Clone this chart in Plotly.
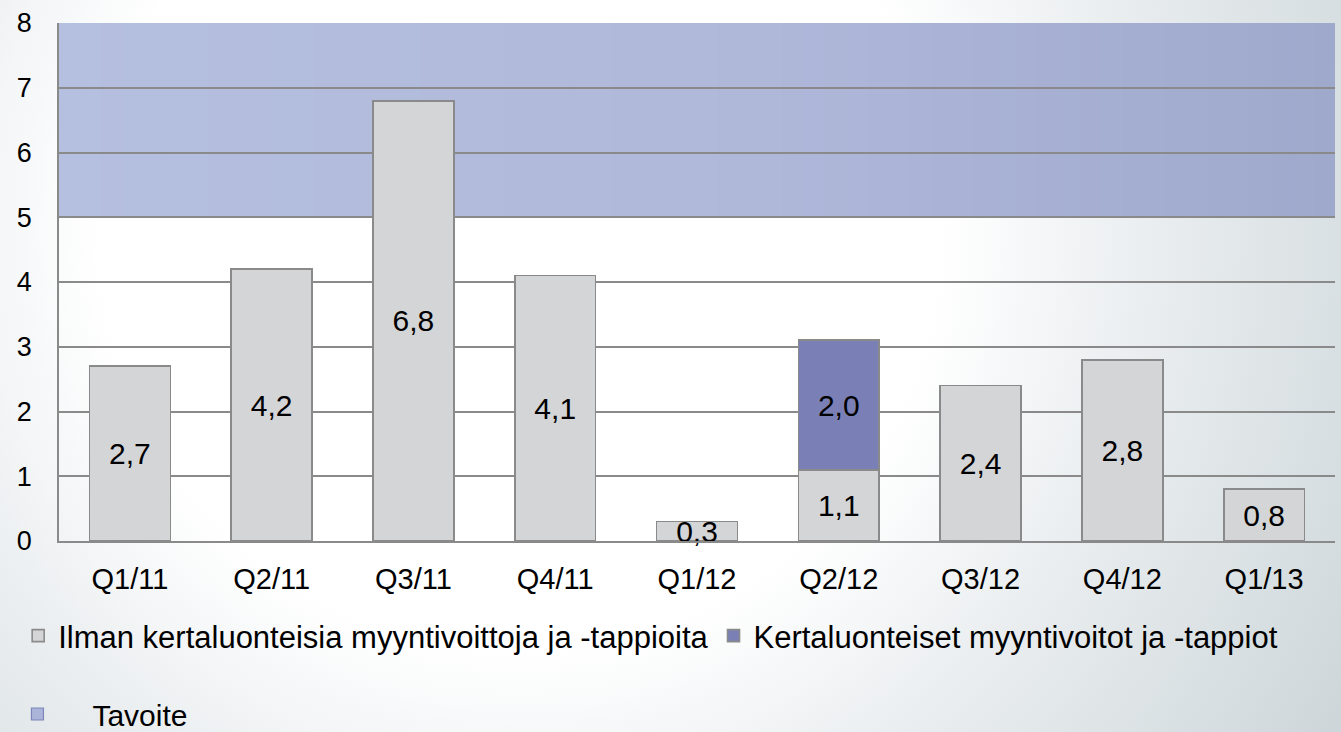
import base64
import plotly.graph_objects as go

# ---- data ----
CATEGORIES = ["Q1/11", "Q2/11", "Q3/11", "Q4/11", "Q1/12", "Q2/12", "Q3/12", "Q4/12", "Q1/13"]
BASE_VALUES = [2.7, 4.2, 6.8, 4.1, 0.3, 1.1, 2.4, 2.8, 0.8]
ONE_OFF_VALUES = [None, None, None, None, None, 2.0, None, None, None]
TARGET_LOW = 5
TARGET_HIGH = 8
Y_TICKS = [0, 1, 2, 3, 4, 5, 6, 7, 8]
NAME_BASE = "Ilman kertaluonteisia myyntivoittoja ja -tappioita"
NAME_ONE_OFF = "Kertaluonteiset myyntivoitot ja -tappiot"
NAME_TARGET = "Tavoite"

# ---- layout geometry ----
W, H = 1341, 732
ML, MR, MT, MB = 59, 6, 23, 191
PW, PH = W - ML - MR, H - MT - MB

FONT = "Arial, 'Liberation Sans', sans-serif"
GRAY_BAR = "#d4d5d7"
BORDER = "#8a8a8a"
ONE_OFF_COLOR = "#7a80b5"
TARGET_COLOR = "#abb5da"

fig = go.Figure()

fig.add_trace(go.Bar(
    x=CATEGORIES, y=BASE_VALUES, name=NAME_BASE,
    marker=dict(color=GRAY_BAR, line=dict(color=BORDER, width=1.6)),
    texttemplate="%{y:.1f}", textposition="inside", insidetextanchor="middle",
    textangle=0, textfont=dict(color="black", size=30, family=FONT),
    cliponaxis=False, hoverinfo="skip", legend="legend",
))
fig.add_trace(go.Bar(
    x=CATEGORIES, y=ONE_OFF_VALUES, name=NAME_ONE_OFF,
    marker=dict(color=ONE_OFF_COLOR, line=dict(color=BORDER, width=1.6)),
    texttemplate="%{y:.1f}", textposition="inside", insidetextanchor="middle",
    textangle=0, textfont=dict(color="black", size=30, family=FONT),
    cliponaxis=False, hoverinfo="skip", legend="legend",
))
# legend-only entry for the target band
fig.add_trace(go.Bar(
    x=[None], y=[None], name=NAME_TARGET,
    marker=dict(color=TARGET_COLOR, line=dict(color="#7d86b8", width=1.2)),
    hoverinfo="skip", legend="legend2",
))

# target band with horizontal gradient (strips below gridlines)
def lerp(c1, c2, t):
    a = [int(c1[i:i + 2], 16) for i in (1, 3, 5)]
    b = [int(c2[i:i + 2], 16) for i in (1, 3, 5)]
    return "#" + "".join(f"{round(a[k] + (b[k] - a[k]) * t):02x}" for k in range(3))

stops = [(0.0, "#b5bfdf"), (0.55, "#b0b8da"), (1.0, "#9ea9cc")]
N = 60
for i in range(N):
    t = (i + 0.5) / N
    for (p0, c0), (p1, c1) in zip(stops[:-1], stops[1:]):
        if p0 <= t <= p1:
            col = lerp(c0, c1, (t - p0) / (p1 - p0))
            break
    fig.add_shape(type="rect", xref="x domain", yref="y",
                  x0=i / N, x1=min(1, (i + 1) / N + 0.002), y0=TARGET_LOW, y1=TARGET_HIGH,
                  fillcolor=col, line=dict(width=0), layer="below")

# page background radial gradient
svg = (
    f'<svg xmlns="http://www.w3.org/2000/svg" width="{W}" height="{H}" viewBox="0 0 {W} {H}" '
    'preserveAspectRatio="none"><defs><radialGradient id="g" gradientUnits="userSpaceOnUse" '
    'cx="520" cy="230" r="1000">'
    '<stop offset="0" stop-color="#ffffff"/><stop offset="0.42" stop-color="#ffffff"/>'
    '<stop offset="0.65" stop-color="#e8ecee"/><stop offset="0.88" stop-color="#d4dcdf"/>'
    '<stop offset="1" stop-color="#c9d2d6"/></radialGradient></defs>'
    f'<rect width="{W}" height="{H}" fill="url(#g)"/></svg>'
)
src = "data:image/svg+xml;base64," + base64.b64encode(svg.encode()).decode()
fig.add_layout_image(dict(
    source=src, xref="paper", yref="paper",
    x=-ML / PW, y=1 + MT / PH, sizex=W / PW, sizey=H / PH,
    xanchor="left", yanchor="top", sizing="stretch", layer="below", opacity=1,
))

fig.update_layout(
    width=W, height=H, autosize=False,
    margin=dict(l=ML, r=MR, t=MT, b=MB, pad=0, autoexpand=False),
    paper_bgcolor="white", plot_bgcolor="rgba(0,0,0,0)",
    barmode="stack", bargap=0.43,
    separators=", ",
    font=dict(family=FONT, color="black"),
    uniformtext=dict(minsize=30, mode="show"),
    showlegend=True,
    legend=dict(orientation="h", traceorder="normal",
                x=-0.032, xanchor="left", y=(541 - 609) / PH, yanchor="top",
                font=dict(size=31, family=FONT), bgcolor="rgba(0,0,0,0)",
                itemwidth=30, tracegroupgap=0),
    legend2=dict(orientation="h", x=-0.06, xanchor="left", y=(541 - 688) / PH, yanchor="top",
                 font=dict(size=30, family=FONT), bgcolor="rgba(0,0,0,0)", itemwidth=100),
    xaxis=dict(showgrid=False, showline=True, linecolor=BORDER, linewidth=1.6,
               tickfont=dict(size=29, family=FONT), ticks="", ticklabelstandoff=11,
               automargin=False, fixedrange=True),
    yaxis=dict(range=[0, 8], tickvals=Y_TICKS, showgrid=True, gridcolor=BORDER, gridwidth=1.6,
               showline=True, linecolor=BORDER, linewidth=1.6, zeroline=False,
               tickfont=dict(size=27, family=FONT), ticks="", ticklabelstandoff=20,
               automargin=False, fixedrange=True),
)

fig.write_html(
    "out.html",
    config={"responsive": False, "displayModeBar": False},
    post_script="document.body.style.margin='0';document.body.style.overflow='hidden';",
)
